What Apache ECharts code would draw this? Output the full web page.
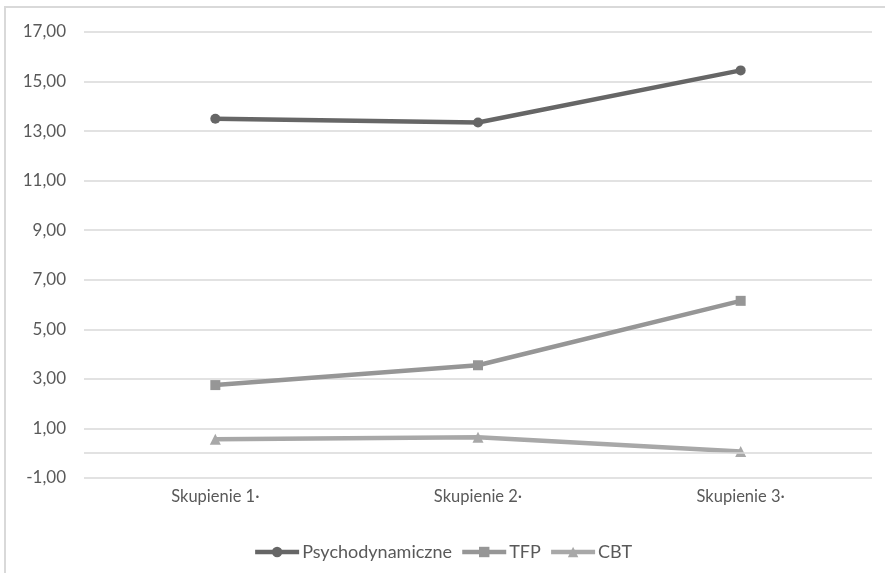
<!DOCTYPE html>
<html>
<head>
<meta charset="utf-8">
<script src="https://cdn.jsdelivr.net/npm/echarts@6/dist/echarts.min.js"></script>
<style>
  html, body { margin: 0; padding: 0; background: #fff; }
  #chart { width: 885px; height: 573px; }
</style>
</head>
<body>
<div id="chart"></div>
<script>
// skupienia (kategorie)
const categories = ['Skupienie 1·', 'Skupienie 2·', 'Skupienie 3·']
const seriesNames = ['Psychodynamiczne', 'TFP', 'CBT']
const psychodynamiczne = [13.50, 13.35, 15.45]
const tfp = [2.75, 3.55, 6.15]
const cbt = [0.56, 0.64, 0.07]
// oś Y
const yMin = -1
const yMax = 17
const yStep = 2

const font = 'Lato, "Open Sans", sans-serif'
const textColor = '#595959'
const gridColor = '#d9d9d9'

const fmt = v => v.toFixed(2).replace('.', ',')

const chart = echarts.init(document.getElementById('chart'))
chart.setOption({
  animation: false,
  color: ['#666666', '#969696', '#a8a8a8'],
  graphic: [{
    type: 'rect',
    z: -10,
    shape: { x: 5, y: 7, width: 920, height: 620 },
    style: { fill: 'none', stroke: gridColor, lineWidth: 2 }
  }],
  grid: {
    left: 84,
    right: 13,
    top: 32,
    bottom: 95,
    containLabel: false
  },
  legend: {
    data: seriesNames,
    left: 'center',
    top: 538,
    itemWidth: 44,
    itemHeight: 13,
    itemGap: 8,
    lineStyle: { width: 4.5 },
    textStyle: { fontFamily: font, fontSize: 18, color: textColor, padding: [0, 0, 0, -2] }
  },
  xAxis: {
    type: 'category',
    data: categories,
    axisLine: { show: false, onZero: false },
    axisTick: { show: false },
    axisLabel: {
      margin: 10,
      fontFamily: font,
      fontSize: 16.5,
      color: textColor
    }
  },
  yAxis: {
    type: 'value',
    min: yMin,
    max: yMax,
    interval: yStep,
    axisLine: { show: false },
    axisTick: { show: false },
    splitLine: { lineStyle: { color: gridColor, width: 1.5 } },
    axisLabel: {
      margin: 18,
      fontFamily: font,
      fontSize: 17,
      color: textColor,
      formatter: fmt
    }
  },
  series: [
    {
      name: seriesNames[0],
      type: 'line',
      data: psychodynamiczne,
      symbol: 'circle',
      symbolSize: 10,
      lineStyle: { width: 4.5 },
      markLine: {
        silent: true,
        symbol: 'none',
        label: { show: false },
        lineStyle: { color: gridColor, type: 'solid', width: 1.5 },
        data: [{ yAxis: 0 }]
      }
    },
    {
      name: seriesNames[1],
      type: 'line',
      data: tfp,
      symbol: 'rect',
      symbolSize: 10,
      lineStyle: { width: 4.5 }
    },
    {
      name: seriesNames[2],
      type: 'line',
      data: cbt,
      symbol: 'triangle',
      symbolSize: 11,
      lineStyle: { width: 4.5 }
    }
  ]
})
</script>
</body>
</html>
